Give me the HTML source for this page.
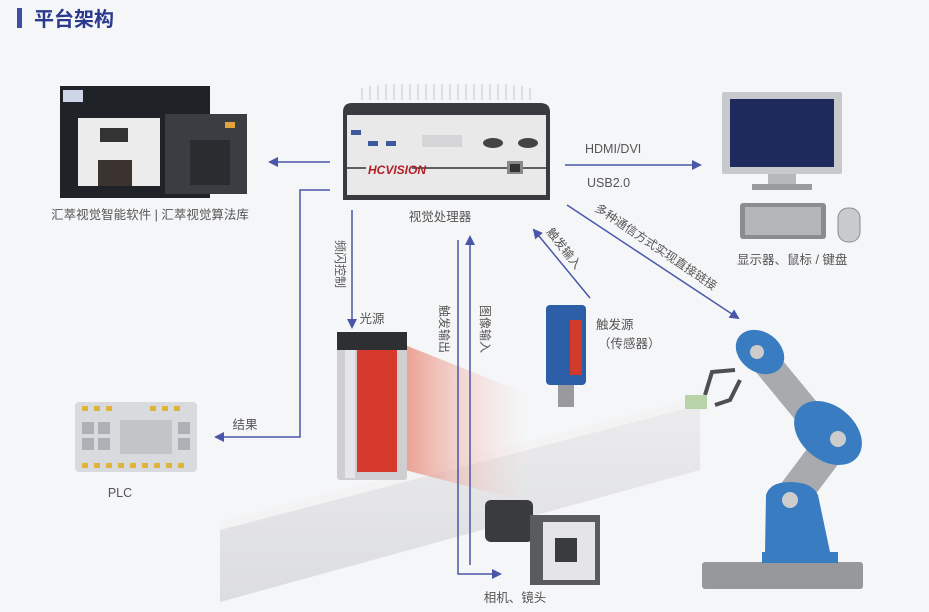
<!DOCTYPE html>
<html><head><meta charset="utf-8"><style>
html,body{margin:0;padding:0;width:929px;height:612px;overflow:hidden;background:#f5f6f8}
svg{display:block}
text{font-family:"Liberation Sans","Noto Sans CJK SC",sans-serif}
</style></head><body>
<svg width="929" height="612" viewBox="0 0 929 612" xmlns="http://www.w3.org/2000/svg">
<defs>
<marker id="a" markerWidth="10" markerHeight="10" refX="8" refY="5" orient="auto" markerUnits="userSpaceOnUse"><path d="M0,0 L10,5 L0,10 Z" fill="#4a57a8"/></marker>
<linearGradient id="beam" x1="0" y1="0" x2="1" y2="0"><stop offset="0" stop-color="#e88a78" stop-opacity=".8"/><stop offset="1" stop-color="#f5d8d0" stop-opacity="0"/></linearGradient>
<linearGradient id="belt" x1="0" y1="0" x2="0" y2="1"><stop offset="0" stop-color="#ececee"/><stop offset="1" stop-color="#dcdde0"/></linearGradient>
</defs>
<rect width="929" height="612" fill="#f5f6f8"/>
<!-- title -->
<rect x="17" y="8" width="5" height="20" fill="#3f4fa6"/>
<text x="34" y="26" font-size="20" font-weight="bold" fill="#2b3a8c">平台架构</text>

<!-- conveyor -->
<polygon points="220,522 700,397 700,470 220,602" fill="url(#belt)"/>
<polygon points="220,522 700,397 700,405 220,530" fill="#f3f3f4"/>
<!-- beam -->
<polygon points="405,345 530,395 520,500 405,470" fill="url(#beam)"/>

<!-- software screens -->
<rect x="60" y="86" width="150" height="112" fill="#1f2226"/>
<rect x="63" y="90" width="20" height="12" fill="#cfd6e8"/>
<rect x="78" y="118" width="82" height="68" fill="#ececec"/>
<rect x="100" y="128" width="28" height="14" fill="#333"/>
<rect x="98" y="160" width="34" height="26" fill="#3a3330"/>
<rect x="165" y="114" width="82" height="80" fill="#3a3d42"/>
<rect x="190" y="140" width="40" height="45" fill="#2a2c30"/>
<rect x="225" y="122" width="10" height="6" fill="#e4a23a"/>
<text x="150" y="219" font-size="12.5" fill="#555" text-anchor="middle">汇萃视觉智能软件 | 汇萃视觉算法库</text>

<!-- processor -->
<g stroke="#ddd" stroke-width="2">
<path d="M362,100 V88 M370,100 V86 M378,100 V85 M386,100 V84 M394,100 V84 M402,100 V84 M410,100 V84 M418,100 V84 M426,100 V84 M434,100 V84 M442,100 V84 M450,100 V84 M458,100 V84 M466,100 V84 M474,100 V84 M482,100 V84 M490,100 V84 M498,100 V84 M506,100 V84 M514,100 V85 M522,100 V86 M530,100 V88"/>
</g>
<path d="M343,112 Q343,103 352,103 L540,103 Q550,103 550,112 L550,200 L343,200 Z" fill="#3a3b3e"/>
<rect x="347" y="115" width="199" height="80" fill="#e9e9ea"/>
<rect x="351" y="130" width="10" height="5" fill="#3a5a9a"/><rect x="368" y="141" width="10" height="5" fill="#3a5a9a"/><rect x="386" y="141" width="10" height="5" fill="#3a5a9a"/>
<rect x="422" y="135" width="40" height="12" fill="#d5d5d8"/>
<ellipse cx="493" cy="143" rx="10" ry="5" fill="#444"/><ellipse cx="528" cy="143" rx="10" ry="5" fill="#444"/>
<line x1="347" y1="168" x2="546" y2="168" stroke="#333" stroke-width="1.5"/>
<rect x="366" y="160" width="46" height="16" fill="#e9e9ea"/>
<text x="368" y="174" font-size="12" font-weight="bold" font-style="italic" fill="#b32025">HCVISION</text>
<rect x="507" y="161" width="16" height="13" fill="#888"/><rect x="510" y="164" width="10" height="8" fill="#333"/>
<text x="440" y="221" font-size="12.5" fill="#555" text-anchor="middle">视觉处理器</text>

<!-- arrows -->
<g stroke="#4a57a8" stroke-width="1.5" fill="none">
<line x1="330" y1="162" x2="270" y2="162" marker-end="url(#a)"/>
<polyline points="330,190 300,190 300,437 216,437" marker-end="url(#a)"/>
<line x1="352" y1="210" x2="352" y2="327" marker-end="url(#a)"/>
<polyline points="458,240 458,574 500,574" marker-end="url(#a)"/>
<line x1="470" y1="565" x2="470" y2="237" marker-end="url(#a)"/>
<line x1="590" y1="298" x2="534" y2="230" marker-end="url(#a)"/>
<line x1="565" y1="165" x2="700" y2="165" marker-end="url(#a)"/>
<line x1="567" y1="205" x2="738" y2="318" marker-end="url(#a)"/>
</g>
<text x="245" y="429" font-size="12.5" fill="#555" text-anchor="middle">结果</text>
<text transform="translate(336,240) rotate(90)" font-size="12" fill="#555">频闪控制</text>
<text transform="translate(440,305) rotate(90)" font-size="12" fill="#555">触发输出</text>
<text transform="translate(481,305) rotate(90)" font-size="12" fill="#555">图像输入</text>
<text transform="translate(546,232) rotate(52)" font-size="12" fill="#555">触发输入</text>
<text transform="translate(594,210) rotate(34)" font-size="12" fill="#555">多种通信方式实现直接链接</text>
<text x="585" y="153" font-size="12.5" fill="#555">HDMI/DVI</text>
<text x="587" y="187" font-size="12.5" fill="#555">USB2.0</text>

<!-- PLC -->
<rect x="75" y="402" width="122" height="70" rx="4" fill="#d9dadd"/>
<rect x="120" y="420" width="52" height="34" fill="#c3c4c8"/>
<g fill="#aeb0b5"><rect x="82" y="422" width="12" height="12"/><rect x="98" y="422" width="12" height="12"/><rect x="82" y="438" width="12" height="12"/><rect x="98" y="438" width="12" height="12"/><rect x="178" y="422" width="12" height="12"/><rect x="178" y="438" width="12" height="12"/></g>
<g fill="#e0b43a"><rect x="82" y="406" width="6" height="5"/><rect x="94" y="406" width="6" height="5"/><rect x="106" y="406" width="6" height="5"/><rect x="150" y="406" width="6" height="5"/><rect x="162" y="406" width="6" height="5"/><rect x="174" y="406" width="6" height="5"/><rect x="82" y="463" width="6" height="5"/><rect x="94" y="463" width="6" height="5"/><rect x="106" y="463" width="6" height="5"/><rect x="118" y="463" width="6" height="5"/><rect x="130" y="463" width="6" height="5"/><rect x="142" y="463" width="6" height="5"/><rect x="154" y="463" width="6" height="5"/><rect x="166" y="463" width="6" height="5"/><rect x="178" y="463" width="6" height="5"/></g>
<text x="120" y="497" font-size="12.5" fill="#555" text-anchor="middle">PLC</text>

<!-- light -->
<text x="372" y="323" font-size="12.5" fill="#555" text-anchor="middle">光源</text>
<rect x="337" y="332" width="70" height="148" rx="3" fill="#cfcfd2"/>
<rect x="337" y="332" width="70" height="18" fill="#2e2f33"/>
<rect x="345" y="350" width="10" height="128" fill="#e6e6e8"/>
<rect x="357" y="350" width="40" height="122" fill="#d63a2c"/>

<!-- sensor -->
<rect x="546" y="305" width="40" height="80" rx="4" fill="#2d5fa8"/>
<rect x="570" y="320" width="12" height="55" fill="#d23a2c"/>
<rect x="558" y="385" width="16" height="22" fill="#9a9a9e"/>
<text x="596" y="329" font-size="12.5" fill="#555">触发源</text>
<text x="598" y="348" font-size="12.5" fill="#555">（传感器）</text>

<!-- camera -->
<rect x="485" y="500" width="48" height="42" rx="6" fill="#3a3b3e"/>
<rect x="530" y="515" width="70" height="70" fill="#5a5b5f"/>
<rect x="543" y="522" width="52" height="58" fill="#e5e5e7"/>
<rect x="555" y="538" width="22" height="24" fill="#3a3b3e"/>
<text x="515" y="602" font-size="12.5" fill="#555" text-anchor="middle">相机、镜头</text>

<!-- monitor -->
<rect x="722" y="92" width="120" height="82" rx="2" fill="#c8c9cc"/>
<rect x="730" y="99" width="104" height="68" fill="#1f2a5c"/>
<rect x="768" y="174" width="28" height="10" fill="#b7b8bb"/>
<rect x="752" y="184" width="60" height="6" fill="#9a9b9f"/>
<rect x="740" y="203" width="86" height="36" rx="3" fill="#8b8c90"/>
<rect x="745" y="207" width="76" height="28" fill="#b5b6ba"/>
<rect x="838" y="208" width="22" height="34" rx="10" fill="#c9cacd" stroke="#8a8b8f"/>
<text x="737" y="264" font-size="12.5" fill="#555">显示器、鼠标 / 键盘</text>

<!-- robot -->
<rect x="702" y="562" width="161" height="27" rx="3" fill="#97989b"/>
<rect x="762" y="552" width="76" height="11" fill="#3a7cc1"/>
<line x1="790" y1="500" x2="835" y2="440" stroke="#a9aaad" stroke-width="34"/>
<line x1="830" y1="440" x2="760" y2="355" stroke="#a9aaad" stroke-width="28"/>
<path d="M766,495 Q770,482 790,482 Q812,482 818,495 L830,552 L765,552 Z" fill="#3a7cc1"/>
<circle cx="790" cy="500" r="8" fill="#ccc"/>
<ellipse cx="828" cy="433" rx="38" ry="27" transform="rotate(40 828 433)" fill="#3a7cc1"/>
<circle cx="838" cy="439" r="8" fill="#ccc"/>
<ellipse cx="760" cy="352" rx="26" ry="20" transform="rotate(35 760 352)" fill="#3a7cc1"/>
<circle cx="757" cy="352" r="7" fill="#ccc"/>
<g stroke="#4e4f53" stroke-width="4" fill="none"><path d="M735,370 L712,372 L705,395"/><path d="M740,380 L730,400 L715,405"/></g>
<rect x="685" y="395" width="22" height="14" fill="#b9d3a8"/>
</svg>
</body></html>
